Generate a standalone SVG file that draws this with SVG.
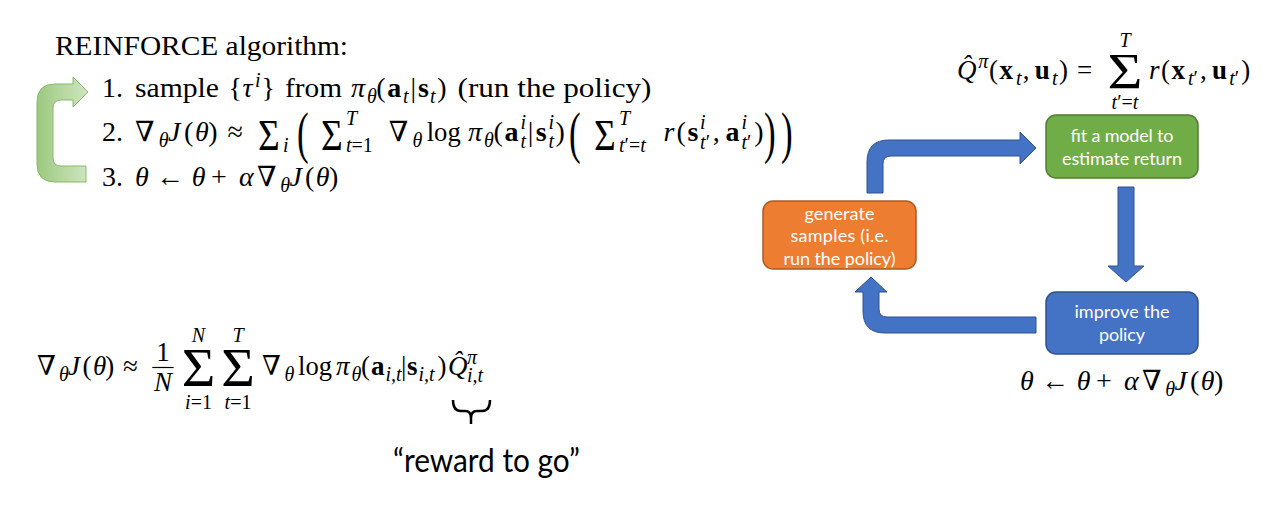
<svg xmlns="http://www.w3.org/2000/svg" width="1268" height="526" viewBox="0 0 1268 526">
<defs>
<style>
.m{font-family:"Liberation Serif","DejaVu Serif",serif;font-size:28px;fill:#000}
.it{font-style:italic}
.bf{font-weight:bold}
.sc{font-size:20px}
.bx{font-family:Lato,"Open Sans","Liberation Sans",sans-serif;font-size:18px;fill:#fff;text-anchor:middle}
.mid{text-anchor:middle}
.tsum{font-size:44px}
.node rect{stroke-width:1.5}
.conn path{fill:#4472c4;stroke:#2f528f;stroke-width:1}
</style>
<linearGradient id="gg" x1="0" y1="0" x2="1" y2="0">
<stop offset="0" stop-color="#9cc97f"/>
<stop offset="1" stop-color="#cfe6c0"/>
</linearGradient>
</defs>
<rect width="1268" height="526" fill="#fff"/>

<!-- REINFORCE algorithm -->
<g id="reinforce">
<text class="m" x="55" y="55" style="font-size:27px" textLength="293" lengthAdjust="spacingAndGlyphs">REINFORCE algorithm:</text>
<path id="loop-arrow" d="M86,166 L61,166 Q53,166 53,158 L53,108 Q53,100 61,100 L73,100 L73,107 L88,92 L73,77 L73,84 L55,84 Q37,84 37,102 L37,164 Q37,182 55,182 L86,182 Z" fill="url(#gg)" stroke="#86b96a" stroke-width="1"/>
<text class="m" y="97"><tspan x="102">1.</tspan><tspan x="135" textLength="84" lengthAdjust="spacingAndGlyphs">sample</tspan><tspan x="228.5">{</tspan><tspan x="242.5" class="it">τ</tspan><tspan x="255" y="87" class="it sc">i</tspan><tspan x="261.5" y="97">}</tspan><tspan x="285" textLength="57" lengthAdjust="spacingAndGlyphs">from</tspan><tspan x="351" class="it">π</tspan><tspan x="367" y="103" class="it sc">θ</tspan><tspan x="376.3" y="97">(</tspan><tspan x="387.2" class="bf">a</tspan><tspan x="403" y="103" class="it sc">t</tspan><tspan x="410.5" y="97">|</tspan><tspan x="418" class="bf">s</tspan><tspan x="430" y="103" class="it sc">t</tspan><tspan x="437.3" y="97">)</tspan><tspan x="457.5" textLength="194" lengthAdjust="spacingAndGlyphs">(run the policy)</tspan></text>
<text class="m" y="141"><tspan x="102">2.</tspan><tspan x="135">∇</tspan><tspan x="158.7" y="147" class="it sc">θ</tspan><tspan x="168" y="141" class="it">J</tspan><tspan x="183.9">(</tspan><tspan x="195" class="it">θ</tspan><tspan x="208.3">)</tspan><tspan x="227.4">≈</tspan><tspan x="283" y="152" class="it sc">i</tspan><tspan x="346" y="125" class="it sc">T</tspan><tspan x="346" y="152" class="sc"><tspan class="it">t</tspan>=1</tspan><tspan x="388.7" y="141">∇</tspan><tspan x="412.5" y="147" class="it sc">θ</tspan><tspan x="426.7" y="141" textLength="34" lengthAdjust="spacingAndGlyphs">log</tspan><tspan x="467.9" class="it">π</tspan><tspan x="484.1" y="147" class="it sc">θ</tspan><tspan x="493.5" y="141">(</tspan><tspan x="504.6" class="bf">a</tspan><tspan x="520.6" y="129" class="it sc">i</tspan><tspan x="520.6" y="148" class="it sc">t</tspan><tspan x="527.8" y="141">|</tspan><tspan x="535.8" class="bf">s</tspan><tspan x="548.4" y="129" class="it sc">i</tspan><tspan x="548.4" y="148" class="it sc">t</tspan><tspan x="555.6" y="141">)</tspan><tspan x="619" y="125" class="it sc">T</tspan><tspan x="619" y="152" class="sc"><tspan class="it">t</tspan>′=<tspan class="it">t</tspan></tspan><tspan x="663.6" y="141" class="it">r</tspan><tspan x="676.4">(</tspan><tspan x="687.5" class="bf">s</tspan><tspan x="700.1" y="129" class="it sc">i</tspan><tspan x="700.1" y="149" class="sc"><tspan class="it">t</tspan>′</tspan><tspan x="712.8" y="141">,</tspan><tspan x="725.5" class="bf">a</tspan><tspan x="741.5" y="129" class="it sc">i</tspan><tspan x="741.5" y="149" class="sc"><tspan class="it">t</tspan>′</tspan><tspan x="754.2" y="141">)</tspan></text>
<text class="m tsum" transform="translate(258,150) scale(0.85,1)">Σ</text>
<text class="m tsum" transform="translate(321,150) scale(0.85,1)">Σ</text>
<text class="m tsum" transform="translate(594,150) scale(0.85,1)">Σ</text>
<text class="m" transform="translate(297,152) scale(1.25,2)">(</text>
<text class="m" transform="translate(569,152) scale(1.25,2)">(</text>
<text class="m" transform="translate(764,152) scale(1.25,2)">)</text>
<text class="m" transform="translate(781,152) scale(1.25,2)">)</text>
<text class="m" y="186"><tspan x="102">3.</tspan><tspan x="135" class="it">θ</tspan><tspan x="155.9">←</tspan><tspan x="191.7" class="it">θ</tspan><tspan x="211">+</tspan><tspan x="239" class="it">α</tspan><tspan x="256.9">∇</tspan><tspan x="280.2" y="192" class="it sc">θ</tspan><tspan x="289.4" y="186" class="it">J</tspan><tspan x="304.9">(</tspan><tspan x="315.8" class="it">θ</tspan><tspan x="328.9">)</tspan></text>
</g>

<!-- gradient estimator with reward to go -->
<g id="estimator">
<text class="m" style="font-size:27px" y="375"><tspan x="37">∇</tspan><tspan x="59.1" y="381" class="it sc">θ</tspan><tspan x="67.9" y="375" class="it">J</tspan><tspan x="82.6">(</tspan><tspan x="93" class="it">θ</tspan><tspan x="105.3">)</tspan><tspan x="123">≈</tspan><tspan x="262">∇</tspan><tspan x="284.5" y="381" class="it sc">θ</tspan><tspan x="298" y="375" textLength="34" lengthAdjust="spacingAndGlyphs">log</tspan><tspan x="336" class="it">π</tspan><tspan x="351.5" y="381" class="it sc">θ</tspan><tspan x="361" y="375">(</tspan><tspan x="371" class="bf">a</tspan><tspan x="385.5" y="381" class="it sc">i,t</tspan><tspan x="401" y="375">|</tspan><tspan x="407" class="bf">s</tspan><tspan x="418.5" y="381" class="it sc">i,t</tspan><tspan x="437.5" y="375">)</tspan><tspan x="448" class="it">Q&#x302;</tspan><tspan x="467" y="364" class="it sc">π</tspan><tspan x="467" y="382" class="it sc">i,t</tspan></text>
<text class="m mid" x="163" y="361" style="font-size:27px">1</text>
<line x1="152.3" y1="367.5" x2="173.6" y2="367.5" stroke="#000" stroke-width="1.2"/>
<text class="m mid it" x="163" y="391" style="font-size:27px">N</text>
<text class="m mid" style="font-size:55px" transform="translate(198.5,386) scale(1.05,1)">Σ</text>
<text class="m mid it sc" x="198.5" y="342">N</text>
<text class="m mid sc" x="198.5" y="409"><tspan class="it">i</tspan>=1</text>
<text class="m mid" style="font-size:55px" transform="translate(238,386) scale(1.05,1)">Σ</text>
<text class="m mid it sc" x="238" y="342">T</text>
<text class="m mid sc" x="238" y="409"><tspan class="it">t</tspan>=1</text>
<path id="brace" d="M453,400 Q453,411 461,411 L465,411 Q471,411 471,418 L471,424 M471,418 Q471,411 477,411 L482,411 Q490,411 490,400" fill="none" stroke="#000" stroke-width="2.5"/>
<text x="393" y="472" font-family="Lato,'Open Sans','Liberation Sans',sans-serif" font-size="32" textLength="187" lengthAdjust="spacingAndGlyphs">“reward to go”</text>
</g>

<!-- Q-hat definition -->
<g id="qhat">
<text class="m" style="font-size:27px" y="79"><tspan x="957" class="it">Q&#x302;</tspan><tspan x="978.3" y="68" class="it sc">π</tspan><tspan x="989.1" y="79">(</tspan><tspan x="999.6" class="bf">x</tspan><tspan x="1016" y="85" class="it sc">t</tspan><tspan x="1022.8" y="79">,</tspan><tspan x="1034.8" class="bf">u</tspan><tspan x="1052.1" y="85" class="it sc">t</tspan><tspan x="1058.9" y="79">)</tspan><tspan x="1076.9">=</tspan><tspan x="1148.9" class="it">r</tspan><tspan x="1161.1">(</tspan><tspan x="1171.6" class="bf">x</tspan><tspan x="1188" y="85" class="sc"><tspan class="it">t</tspan>′</tspan><tspan x="1200" y="79">,</tspan><tspan x="1212" class="bf">u</tspan><tspan x="1229.3" y="85" class="sc"><tspan class="it">t</tspan>′</tspan><tspan x="1241.3" y="79">)</tspan></text>
<text class="m mid" style="font-size:50px" transform="translate(1125,88) scale(1.2,1)">Σ</text>
<text class="m mid it sc" x="1125" y="47">T</text>
<text class="m mid sc" x="1125" y="109"><tspan class="it">t</tspan>′=<tspan class="it">t</tspan></text>
</g>

<!-- update rule under improve box -->
<g id="update">
<text class="m" y="390"><tspan x="1020" class="it">θ</tspan><tspan x="1040.9">←</tspan><tspan x="1076.7" class="it">θ</tspan><tspan x="1096">+</tspan><tspan x="1124" class="it">α</tspan><tspan x="1141.9">∇</tspan><tspan x="1165.2" y="396" class="it sc">θ</tspan><tspan x="1174.4" y="390" class="it">J</tspan><tspan x="1189.9">(</tspan><tspan x="1200.8" class="it">θ</tspan><tspan x="1213.9">)</tspan></text>
</g>

<!-- connectors -->
<g id="connectors" class="conn">
<path id="c-gen-fit" d="M867,193 L867,162 Q867,140 889,140 L1020,140 L1020,132 L1036,148 L1020,164 L1020,156 L891,156 Q883,156 883,164 L883,193 Z"/>
<path id="c-fit-imp" d="M1118,187 L1134,187 L1134,266 L1144,266 L1126,282 L1108,266 L1118,266 Z"/>
<path id="c-imp-gen" d="M1036,317 L887,317 Q879,317 879,309 L879,292 L887,292 L871,277 L855,292 L863,292 L863,311 Q863,333 885,333 L1036,333 Z"/>
</g>

<!-- nodes -->
<g id="node-fit" class="node">
<rect x="1046" y="115" width="152" height="63" rx="10" fill="#70ad47" stroke="#507e32"/>
<text class="bx" x="1122" y="142" textLength="103">fit a model to</text>
<text class="bx" x="1122" y="165" textLength="120">estimate return</text>
</g>
<g id="node-improve" class="node">
<rect x="1046" y="292" width="152" height="62" rx="10" fill="#4472c4" stroke="#2f528f"/>
<text class="bx" x="1122" y="318" textLength="95">improve the</text>
<text class="bx" x="1122" y="341" textLength="46">policy</text>
</g>
<g id="node-generate" class="node">
<rect x="763" y="201" width="153" height="68" rx="10" fill="#ed7d31" stroke="#ae5a21"/>
<text class="bx" x="839.5" y="220" textLength="70">generate</text>
<text class="bx" x="839.5" y="242" textLength="98">samples (i.e.</text>
<text class="bx" x="839.5" y="265" textLength="112">run the policy)</text>
</g>
</svg>
